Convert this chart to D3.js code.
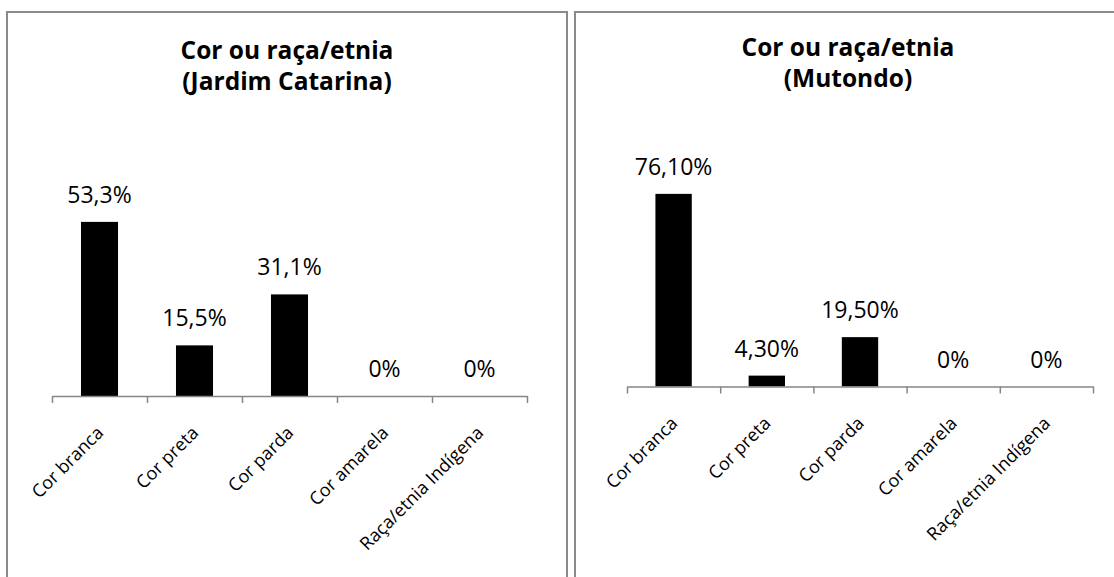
<!DOCTYPE html>
<html>
<head>
<meta charset="utf-8">
<script src="https://cdn.jsdelivr.net/npm/d3@7"></script>
<style>
  html, body { margin: 0; padding: 0; background: #fff; }
  svg { display: block; font-family: "Open Sans", sans-serif; }
</style>
</head>
<body>
<div id="chart"></div>
<script>
// categories shared by both panels
const categories = ['Cor branca', 'Cor preta', 'Cor parda', 'Cor amarela', 'Raça/etnia Indígena'];

// Jardim Catarina
const jardimValues = [53.3, 15.5, 31.1, 0, 0];
const jardimLabels = ['53,3%', '15,5%', '31,1%', '0%', '0%'];

// Mutondo
const mutondoValues = [76.1, 4.3, 19.5, 0, 0];
const mutondoLabels = ['76,10%', '4,30%', '19,50%', '0%', '0%'];

const width = 1114, height = 577;

const svg = d3.select('#chart')
    .append('svg')
    .attr('width', width)
    .attr('height', height);

// panels: frame, plot area and value max for each chart
const panels = [
    {
        title: ['Cor ou raça/etnia', '(Jardim Catarina)'],
        values: jardimValues, labels: jardimLabels,
        frame: {x: 7, y: 12, w: 560, h: 600},
        titleX: 287, titleY: 59,
        plot: {left: 52, right: 527, top: 200, bottom: 396},
        yMax: 60
    },
    {
        title: ['Cor ou raça/etnia', '(Mutondo)'],
        values: mutondoValues, labels: mutondoLabels,
        frame: {x: 575, y: 12, w: 546, h: 600},
        titleX: 848, titleY: 56,
        plot: {left: 627, right: 1093, top: 184, bottom: 386.5},
        yMax: 80
    }
];

panels.forEach(p => drawPanel(p));

function drawPanel(p) {
    const g = svg.append('g');

    // outer frame
    g.append('rect')
        .attr('x', p.frame.x)
        .attr('y', p.frame.y)
        .attr('width', p.frame.w)
        .attr('height', p.frame.h)
        .attr('fill', '#fff')
        .attr('stroke', '#8a8a8a')
        .attr('stroke-width', 2);

    // title, two lines
    const title = g.append('text')
        .attr('text-anchor', 'middle')
        .attr('font-weight', 700)
        .attr('font-size', '24.5px')
        .attr('fill', '#000');
    p.title.forEach((line, i) => {
        title.append('tspan')
            .attr('x', p.titleX)
            .attr('y', p.titleY + i * 31)
            .text(line);
    });

    const x = d3.scaleBand()
        .domain(categories)
        .range([p.plot.left, p.plot.right])
        .paddingInner(0.61)
        .paddingOuter(0.305);

    const y = d3.scaleLinear()
        .domain([0, p.yMax])
        .range([p.plot.bottom, p.plot.top]);

    // bars
    g.selectAll('rect.bar')
        .data(p.values)
        .enter()
        .append('rect')
        .attr('class', 'bar')
        .attr('x', (d, i) => x(categories[i]))
        .attr('y', d => y(d))
        .attr('width', x.bandwidth())
        .attr('height', d => y(0) - y(d))
        .attr('fill', '#000');

    // value labels
    g.selectAll('text.value')
        .data(p.values)
        .enter()
        .append('text')
        .attr('class', 'value')
        .attr('x', (d, i) => x(categories[i]) + x.bandwidth() / 2)
        .attr('y', d => y(d) - 19)
        .attr('text-anchor', 'middle')
        .attr('font-size', '23px')
        .attr('fill', '#000')
        .text((d, i) => p.labels[i]);

    // category axis, ticks sit between categories
    const idx = d3.scaleLinear()
        .domain([0, categories.length])
        .range([p.plot.left, p.plot.right]);

    const axis = g.append('g')
        .attr('transform', `translate(0,${p.plot.bottom})`)
        .call(d3.axisBottom(idx)
            .tickValues(d3.range(categories.length + 1))
            .tickSize(7)
            .tickSizeOuter(0)
            .tickFormat(''));
    axis.select('.domain').attr('stroke', '#868686').attr('stroke-width', 1.5);
    axis.selectAll('.tick line').attr('stroke', '#868686').attr('stroke-width', 1.5);

    // rotated category labels
    g.selectAll('text.cat')
        .data(categories)
        .enter()
        .append('text')
        .attr('class', 'cat')
        .attr('text-anchor', 'end')
        .attr('font-size', '18px')
        .attr('fill', '#000')
        .attr('transform', d => {
            const tx = x(d) + x.bandwidth() / 2 + 5;
            const ty = p.plot.bottom + 38;
            return `translate(${tx},${ty}) rotate(-45)`;
        })
        .text(d => d);
}
</script>
</body>
</html>
